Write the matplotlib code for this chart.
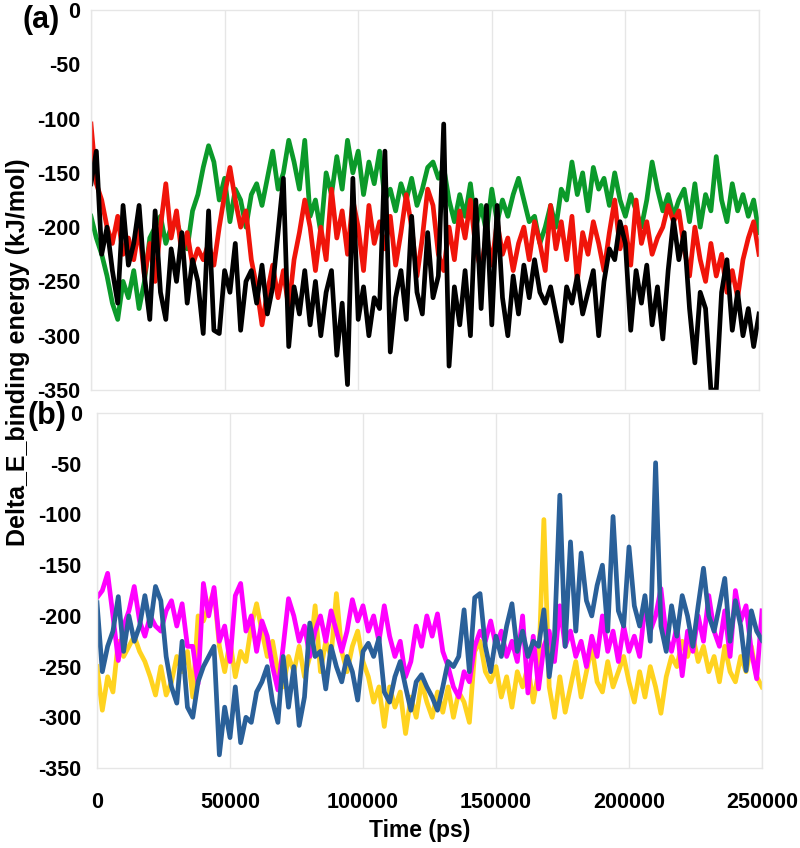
import numpy as np
import matplotlib
matplotlib.use("Agg")
import matplotlib.pyplot as plt

plt.rcParams['font.family'] = ['Liberation Sans', 'DejaVu Sans']
plt.rcParams['font.weight'] = 'bold'

time_ps = np.arange(0, 250001, 2000)

# Panel (a)
green_a = [-190, -210, -225, -245, -270, -285, -250, -265, -240, -275,
           -250, -210, -200, -190, -215, -200, -195, -210, -220, -185,
           -170, -145, -125, -140, -175, -155, -195, -165, -175, -200,
           -170, -160, -180, -155, -130, -165, -150, -120, -140, -165,
           -120, -190, -175, -205, -150, -170, -135, -165, -120, -150,
           -130, -170, -140, -160, -130, -175, -165, -185, -160, -175,
           -155, -180, -165, -145, -140, -155, -145, -175, -195, -170,
           -190, -160, -200, -180, -205, -165, -195, -175, -190, -170,
           -155, -175, -195, -190, -215, -200, -180, -200, -165, -175,
           -140, -170, -150, -185, -145, -165, -155, -180, -150, -175,
           -190, -170, -185, -200, -175, -140, -165, -185, -170, -190,
           -175, -165, -195, -160, -200, -170, -185, -135, -175, -195,
           -160, -185, -170, -190, -175, -205]
red_a = [-105, -160, -175, -200, -215, -190, -225, -210, -230, -200,
         -245, -215, -250, -200, -160, -210, -185, -225, -205, -235,
         -220, -230, -215, -235, -200, -170, -145, -175, -200, -185,
         -230, -255, -290, -260, -235, -265, -240, -275, -230, -205,
         -175, -200, -240, -200, -230, -165, -210, -185, -225, -175,
         -200, -240, -180, -215, -195, -220, -190, -235, -205, -170,
         -200, -245, -210, -165, -180, -225, -240, -200, -230, -185,
         -210, -175, -220, -240, -205, -235, -195, -225, -210, -240,
         -215, -200, -230, -195, -215, -240, -180, -220, -195, -230,
         -190, -250, -205, -225, -195, -215, -240, -205, -175, -220,
         -200, -235, -175, -215, -195, -225, -210, -200, -180, -195,
         -185, -220, -245, -200, -230, -250, -215, -245, -225, -260,
         -240, -265, -230, -210, -195, -225]
black_a = [-160, -130, -225, -200, -240, -270, -180, -235, -215, -180,
           -245, -285, -185, -260, -285, -220, -250, -205, -270, -230,
           -250, -298, -185, -295, -298, -240, -260, -215, -295, -250,
           -240, -270, -235, -280, -255, -205, -155, -310, -255, -280,
           -240, -290, -250, -300, -260, -240, -318, -270, -345, -155,
           -285, -255, -300, -265, -275, -130, -315, -265, -240, -285,
           -190, -260, -280, -205, -265, -245, -105, -328, -255, -290,
           -240, -300, -175, -275, -180, -290, -180, -265, -300, -245,
           -280, -235, -265, -230, -260, -270, -255, -280, -305, -255,
           -270, -245, -280, -260, -240, -300, -250, -220, -230, -195,
           -215, -295, -240, -270, -235, -290, -255, -303, -240, -193,
           -230, -205, -275, -325, -260, -275, -350, -350, -260, -230,
           -295, -260, -300, -275, -310, -280]

# Panel (b)
yellow_b = [-250, -293, -260, -275, -225, -240, -230, -220, -235, -245,
            -260, -278, -250, -278, -265, -240, -255, -235, -280, -200,
            -205, -190, -175, -230, -255, -225, -260, -235, -245, -210,
            -188, -215, -240, -225, -255, -270, -240, -255, -230, -260,
            -240, -190, -255, -225, -240, -178, -235, -255, -230, -215,
            -245, -260, -285, -270, -309, -270, -290, -275, -316, -280,
            -300, -265, -285, -300, -275, -295, -270, -300, -275, -285,
            -305, -235, -225, -255, -265, -250, -280, -260, -290, -255,
            -270, -250, -285, -255, -105, -270, -300, -260, -295, -270,
            -245, -280, -255, -230, -265, -275, -245, -270, -255, -240,
            -265, -285, -255, -280, -250, -270, -296, -260, -240, -250,
            -225, -240, -220, -245, -230, -255, -240, -265, -230, -255,
            -265, -240, -255, -230, -260, -270]
magenta_b = [-182, -175, -158, -200, -244, -210, -195, -171, -205, -220,
             -200, -210, -215, -195, -185, -210, -188, -230, -230, -267,
             -168, -200, -172, -225, -210, -245, -180, -168, -215, -200,
             -235, -205, -220, -250, -273, -230, -183, -200, -225, -210,
             -240, -215, -200, -225, -195, -215, -235, -215, -184, -205,
             -190, -215, -200, -225, -190, -220, -240, -225, -260, -245,
             -210, -230, -200, -220, -198, -235, -250, -270, -280, -255,
             -265, -230, -215, -225, -205, -230, -215, -240, -225, -245,
             -200, -276, -220, -272, -230, -215, -245, -190, -230, -215,
             -240, -225, -250, -220, -240, -200, -235, -215, -245, -210,
             -235, -220, -240, -190, -215, -200, -173, -220, -235, -210,
             -259, -215, -235, -200, -225, -180, -215, -230, -195, -240,
             -175, -205, -190, -235, -262, -195]
blue_b = [-187, -255, -230, -215, -181, -235, -200, -225, -210, -180,
          -210, -171, -185, -240, -270, -286, -225, -290, -300, -265,
          -250, -240, -230, -337, -290, -320, -270, -325, -300, -305,
          -275, -265, -250, -285, -305, -240, -290, -250, -308, -280,
          -207, -240, -235, -272, -230, -250, -265, -240, -255, -283,
          -235, -227, -240, -222, -275, -285, -260, -245, -270, -293,
          -265, -258, -270, -280, -293, -270, -245, -250, -240, -194,
          -255, -182, -178, -230, -255, -220, -240, -210, -188, -235,
          -215, -240, -225, -230, -194, -260, -220, -81, -230, -127,
          -215, -138, -185, -200, -170, -150, -215, -102, -195, -210,
          -132, -190, -210, -180, -225, -49, -210, -235, -190, -220,
          -180, -200, -230, -190, -153, -200, -215, -190, -163, -225,
          -185, -210, -254, -195, -215, -224]

y_ticks = [0, -50, -100, -150, -200, -250, -300, -350]
x_ticks = [0, 50000, 100000, 150000, 200000, 250000]
x_ticklabels = ['0', '50000', '100000', '150000', '200000', '250000']

fig = plt.figure(figsize=(8, 8.48), dpi=100)
ax_a = fig.add_axes([0.11375, 0.5401, 0.835, 0.4481])
ax_b = fig.add_axes([0.12125, 0.0943, 0.83125, 0.4186])

grid_col = '#e6e6e6'
lw = 3.4

ax_a.plot(time_ps, green_a, color='#0b9a2a', lw=lw, solid_joinstyle='round')
ax_a.plot(time_ps, red_a, color='#f0140a', lw=lw, solid_joinstyle='round')
ax_a.plot(time_ps, black_a, color='#000000', lw=lw, solid_joinstyle='round')

ax_b.plot(time_ps, yellow_b, color='#ffd320', lw=lw, solid_joinstyle='round')
ax_b.plot(time_ps, magenta_b, color='#ff00ff', lw=lw, solid_joinstyle='round')
ax_b.plot(time_ps, blue_b, color='#2a6099', lw=lw, solid_joinstyle='round')

for ax in (ax_a, ax_b):
    ax.set_xlim(0, 250000)
    ax.set_ylim(-350, 0)
    ax.set_yticks(y_ticks)
    ax.set_yticklabels([str(v) for v in y_ticks], fontsize=15.5, fontweight='bold')
    ax.set_xticks(x_ticks)
    ax.xaxis.grid(True, color=grid_col, lw=1)
    ax.yaxis.grid(False)
    ax.set_axisbelow(True)
    for s in ax.spines.values():
        s.set_color(grid_col)
        s.set_linewidth(1)
    ax.tick_params(length=0)

ax_a.tick_params(axis='y', pad=8)
ax_a.set_xticklabels([])
ax_b.tick_params(axis='y', pad=11)
ax_b.set_xticklabels(x_ticklabels, fontsize=15.5, fontweight='bold')
ax_b.tick_params(axis='x', pad=17)

fig.text(0.028, 0.976, '(a)', fontsize=22, fontweight='bold', ha='left', va='center')
fig.text(0.034, 0.51, '(b)', fontsize=22, fontweight='bold', ha='left', va='center')
fig.text(0.022, 0.585, 'Delta_E_binding energy (kJ/mol)', rotation=90,
         fontsize=18, fontweight='bold', ha='center', va='center')
fig.text(0.525, 0.021, 'Time (ps)', fontsize=16.5, fontweight='bold',
         ha='center', va='center')

fig.savefig('out.png', dpi=100)
